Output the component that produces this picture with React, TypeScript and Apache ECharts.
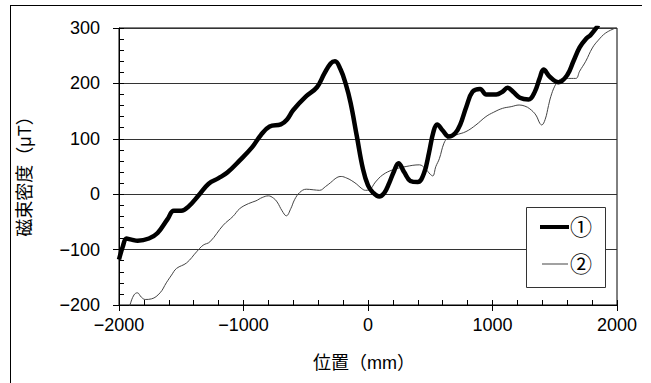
import React, { useEffect, useRef } from "react";
import * as echarts from "echarts";

const seriesNames = ["①", "②"];

const series1: [number, number][] = [
  [-2000, -118], [-1970, -95], [-1940, -80], [-1900, -82], [-1850, -84],
  [-1760, -80], [-1690, -70], [-1610, -45], [-1560, -30], [-1500, -30],
  [-1440, -22], [-1360, -2], [-1280, 19], [-1200, 29], [-1130, 39],
  [-1030, 61], [-930, 85], [-860, 107], [-790, 122], [-700, 126],
  [-650, 135], [-600, 152], [-500, 176], [-410, 193], [-350, 218],
  [-300, 236], [-265, 240], [-220, 225], [-180, 200], [-140, 165],
  [-90, 105], [-40, 45], [0, 16], [40, 3], [90, -4],
  [130, 2], [170, 20], [210, 42], [245, 56], [290, 40],
  [340, 24], [400, 22], [450, 38], [490, 75], [525, 112],
  [555, 126], [600, 115], [650, 104], [700, 110], [740, 125],
  [790, 158], [840, 185], [900, 190], [950, 180], [1030, 180],
  [1080, 185], [1120, 192], [1170, 184], [1220, 174], [1290, 171],
  [1340, 185], [1380, 210], [1410, 225], [1460, 212], [1530, 202],
  [1600, 215], [1650, 240], [1700, 265], [1750, 280], [1790, 288],
  [1850, 305],
];

const series2: [number, number][] = [
  [-1925, -212], [-1912, -200], [-1880, -182], [-1853, -178], [-1820, -186],
  [-1790, -190], [-1740, -189], [-1670, -178], [-1620, -160], [-1578, -146],
  [-1538, -134], [-1457, -124], [-1377, -104], [-1324, -92], [-1270, -86],
  [-1163, -56], [-1084, -40], [-1030, -26], [-960, -17], [-900, -12],
  [-850, -6], [-800, -3], [-760, -7], [-730, -14], [-690, -30],
  [-656, -39], [-620, -26], [-590, -10], [-549, 3], [-496, 9],
  [-440, 8], [-389, 7], [-340, 14], [-300, 21], [-250, 30],
  [-215, 32], [-170, 29], [-135, 25], [-90, 18], [-55, 11],
  [-20, 7], [12, 8], [60, 22], [119, 35], [199, 44],
  [306, 50], [413, 53], [460, 46], [500, 36], [520, 33],
  [545, 50], [573, 64], [610, 92], [640, 101], [707, 107],
  [787, 113], [867, 125], [947, 140], [1010, 148], [1081, 155],
  [1150, 158], [1214, 161], [1260, 159], [1300, 154], [1348, 143],
  [1380, 128], [1395, 125], [1423, 135], [1450, 160], [1468, 176],
  [1500, 195], [1535, 206], [1589, 209], [1669, 209], [1700, 222],
  [1749, 240], [1802, 264], [1850, 278], [1909, 291], [1989, 300],
];

const xMin = -2000;
const xMax = 2000;
const yMin = -200;
const yMax = 300;
const xAxisTitle = "位置（mm）";
const yAxisTitle = "磁束密度（μT）";

const FONT = '"Liberation Sans", "Noto Sans CJK JP", sans-serif';

// legend key glyphs: zero-area corner marks fix the icon box to 29x20
const ICON_THICK = "path://M0,0L0.01,0L0,0Z M0,8L29,8L29,12L0,12Z M29,20L28.99,20L29,20Z";
const ICON_THIN = "path://M0,0L0.01,0L0,0Z M2,9.5L28,9.5L28,10.5L2,10.5Z M29,20L28.99,20L29,20Z";

export default function App() {
  const ref = useRef<HTMLDivElement>(null);
  useEffect(() => {
    if (!ref.current) return;
    const chart = echarts.init(ref.current, undefined, { renderer: "svg" });
    const gridPos = { left: 119, top: 28, width: 498, height: 277 };
    const fmt = (v: number) => String(v).replace("-", "\u2212");
    chart.setOption({
      animation: false,
      backgroundColor: "#fff",
      textStyle: { fontFamily: FONT },
      grid: [
        { ...gridPos, show: true, borderColor: "#000", borderWidth: 1, backgroundColor: "transparent" },
        { ...gridPos, show: false },
      ],
      xAxis: [
        {
          gridIndex: 0, type: "value", min: xMin, max: xMax, interval: 200,
          axisLine: { show: true, onZero: false, lineStyle: { color: "#000", width: 1 } },
          axisTick: { show: true, inside: true, length: 5, lineStyle: { color: "#000" } },
          axisLabel: { show: false },
          splitLine: { show: false },
        },
        {
          gridIndex: 1, type: "value", min: xMin, max: xMax, interval: 1000,
          axisLine: { show: false, onZero: false },
          axisTick: { show: true, inside: false, length: 6, lineStyle: { color: "#000" } },
          axisLabel: { show: true, fontSize: 18, color: "#000", margin: 11, fontFamily: FONT, formatter: fmt },
          splitLine: { show: false },
        },
      ],
      yAxis: [
        {
          gridIndex: 0, type: "value", min: yMin, max: yMax, interval: 20,
          axisLine: { show: true, onZero: false, lineStyle: { color: "#000", width: 1 } },
          axisTick: { show: true, inside: true, length: 5, lineStyle: { color: "#000" } },
          axisLabel: { show: false },
          splitLine: { show: false },
        },
        {
          gridIndex: 1, type: "value", min: yMin, max: yMax, interval: 100,
          axisLine: { show: false, onZero: false },
          axisTick: { show: true, inside: false, length: 6, lineStyle: { color: "#000" } },
          axisLabel: { show: true, fontSize: 18, color: "#000", margin: 19, fontFamily: FONT, formatter: fmt },
          splitLine: { show: true, lineStyle: { color: "#333", width: 1 } },
        },
      ],
      legend: {
        orient: "vertical",
        left: 540,
        top: 216,
        padding: 0,
        itemWidth: 29,
        itemHeight: 20,
        itemGap: 15,
        itemStyle: { borderWidth: 0 },
        textStyle: { fontSize: 22, color: "#000", fontFamily: FONT, padding: [0, 0, 0, -4] },
        data: [
          { name: seriesNames[0], icon: ICON_THICK },
          { name: seriesNames[1], icon: ICON_THIN },
        ],
        z: 10,
      },
      graphic: [
        { type: "line", shape: { x1: 10, y1: 5.5, x2: 642, y2: 5.5 }, style: { stroke: "#000", lineWidth: 1 }, silent: true },
        { type: "line", shape: { x1: 10.5, y1: 5, x2: 10.5, y2: 383 }, style: { stroke: "#000", lineWidth: 1 }, silent: true },
        {
          type: "rect", z: 3, shape: { x: 526.5, y: 207.5, width: 79, height: 80 },
          style: { fill: "#fff", stroke: "#333", lineWidth: 1 }, silent: true,
        },
        {
          type: "text", x: 25, y: 172, rotation: Math.PI / 2,
          style: { text: yAxisTitle, fontSize: 18, fill: "#000", align: "center", verticalAlign: "middle", fontFamily: FONT },
        },
        {
          type: "text", x: 364, y: 363,
          style: { text: xAxisTitle, fontSize: 18, fill: "#000", align: "center", verticalAlign: "middle", fontFamily: FONT },
        },
      ],
      series: [
        {
          name: seriesNames[0], type: "line", xAxisIndex: 0, yAxisIndex: 0,
          data: series1, smooth: 0.4, symbol: "none", clip: true,
          lineStyle: { color: "#000", width: 4.5 }, itemStyle: { color: "#000" }, z: 5,
        },
        {
          name: seriesNames[1], type: "line", xAxisIndex: 0, yAxisIndex: 0,
          data: series2, smooth: 0.4, symbol: "none", clip: true,
          lineStyle: { color: "#444", width: 1 }, itemStyle: { color: "#444" }, z: 4,
        },
      ],
    });
    return () => chart.dispose();
  }, []);
  return <div ref={ref} style={{ position: "absolute", left: 0, top: 0, width: 651, height: 383 }} />;
}
